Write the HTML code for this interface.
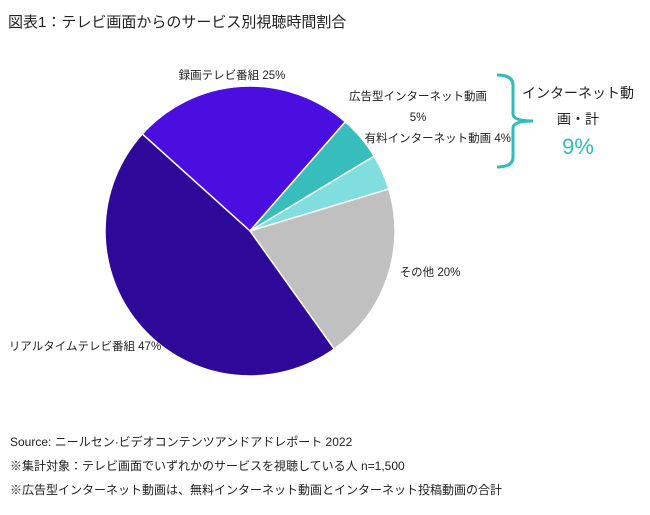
<!DOCTYPE html>
<html><head><meta charset="utf-8"><style>
body{margin:0;background:#fff;width:650px;height:510px;overflow:hidden;font-family:"Liberation Sans","Noto Sans CJK JP",sans-serif;}
</style></head><body>
<svg width="650" height="510" style="font-family:'Liberation Sans','Noto Sans CJK JP',sans-serif">
<text x="8" y="27" font-size="15" fill="#222">図表1：テレビ画面からのサービス別視聴時間割合</text>
<g id="slices"></g>
<text x="232" y="79" font-size="11.5" text-anchor="middle" fill="#222">録画テレビ番組 25%</text>
<text x="418" y="100" font-size="11.5" text-anchor="middle" fill="#222">広告型インターネット動画</text>
<text x="418" y="121" font-size="11.5" text-anchor="middle" fill="#222">5%</text>
<text x="511" y="142" font-size="11.5" text-anchor="end" fill="#222">有料インターネット動画 4%</text>
<text x="430" y="276" font-size="11.5" text-anchor="middle" fill="#222">その他 20%</text>
<text x="85" y="350" font-size="11.5" text-anchor="middle" fill="#222">リアルタイムテレビ番組 47%</text>
<path d="M497,75 Q513,75 513,85 L513,114 Q513,121 533,121 Q513,121 513,128 L513,157 Q513,167 497,167" fill="none" stroke="#2fbcbc" stroke-width="3"/>
<text x="578" y="98" font-size="14" text-anchor="middle" fill="#222">インターネット動</text>
<text x="578" y="124" font-size="14" text-anchor="middle" fill="#222">画・計</text>
<text x="578" y="154" font-size="22" text-anchor="middle" fill="#2fbcbc">9%</text>
<text x="10" y="446" font-size="12" fill="#222">Source: ニールセン·ビデオコンテンツアンドアドレポート 2022</text>
<text x="10" y="470" font-size="12" fill="#222">※集計対象：テレビ画面でいずれかのサービスを視聴している人 n=1,500</text>
<text x="10" y="494" font-size="12" fill="#222">※広告型インターネット動画は、無料インターネット動画とインターネット投稿動画の合計</text>
</svg>
<script>
const categories=["録画テレビ番組","広告型インターネット動画","有料インターネット動画","その他","リアルタイムテレビ番組"];
const values=[25,5,4,20,47];
const colors=["#4a0ee0","#38bdbd","#80dede","#c0c0c0","#2e0899"];
const cx=250,cy=231,r=145,startDeg=312;
const total=values.reduce((a,b)=>a+b,0);
const g=document.getElementById('slices');
let a=startDeg;
function pt(d){const t=d*Math.PI/180;return [cx+r*Math.sin(t),cy-r*Math.cos(t)];}
values.forEach((v,i)=>{
  const span=v/total*360;const p1=pt(a),p2=pt(a+span);
  const p=document.createElementNS('http://www.w3.org/2000/svg','path');
  p.setAttribute('d',`M${cx},${cy} L${p1[0]},${p1[1]} A${r},${r} 0 ${span>180?1:0} 1 ${p2[0]},${p2[1]} Z`);
  p.setAttribute('fill',colors[i]);p.setAttribute('stroke','#fff');p.setAttribute('stroke-width','1.5');
  
  
  g.appendChild(p);a+=span;
});
</script>
</body></html>
